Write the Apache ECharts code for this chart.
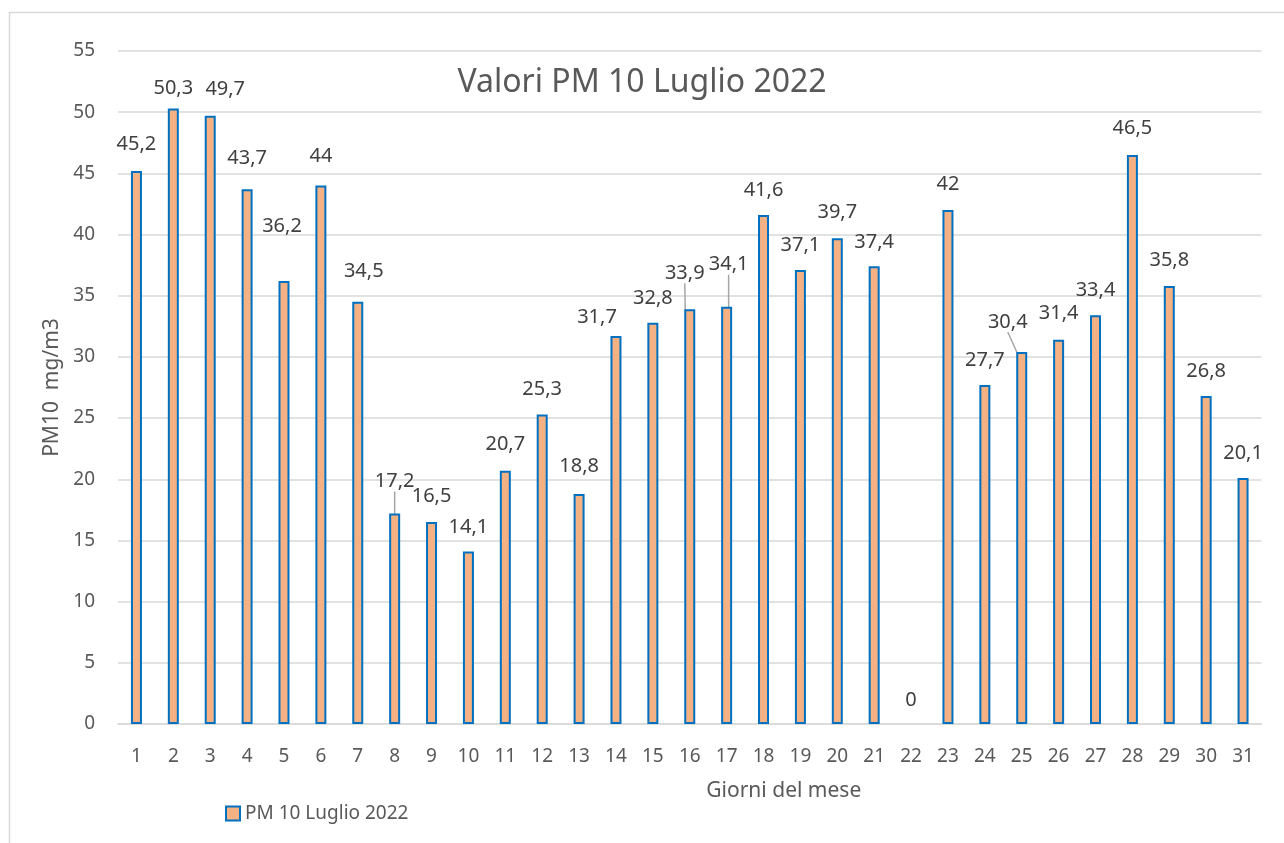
<!DOCTYPE html>
<html>
<head>
<meta charset="utf-8">
<title>Valori PM 10 Luglio 2022</title>
<script src="https://cdn.jsdelivr.net/npm/echarts@6/dist/echarts.min.js"></script>
<style>
  html, body { margin: 0; padding: 0; background: #fff; }
  #chart { width: 1284px; height: 843px; }
</style>
</head>
<body>
<div id="chart"></div>
<script>
// giorni del mese
const days = ['1', '2', '3', '4', '5', '6', '7', '8', '9', '10', '11', '12', '13', '14', '15', '16',
  '17', '18', '19', '20', '21', '22', '23', '24', '25', '26', '27', '28', '29', '30', '31']

// PM10 mg/m3
const pm10 = [45.2, 50.3, 49.7, 43.7, 36.2, 44, 34.5, 17.2, 16.5, 14.1, 20.7, 25.3, 18.8, 31.7, 32.8, 33.9,
  34.1, 41.6, 37.1, 39.7, 37.4, 0, 42, 27.7, 30.4, 31.4, 33.4, 46.5, 35.8, 26.8, 20.1]

const yTicks = [0, 5, 10, 15, 20, 25, 30, 35, 40, 45, 50, 55]

// label nudges (px) like the hand-moved labels in the original, [dx, dy]
const labelShift = {
  0: [0, -2], 1: [0, 5], 2: [15, -2], 3: [0, -6], 4: [-2, -30], 5: [0, -4], 6: [6, -6],
  7: [0, -7], 8: [0, -1], 9: [0, 1], 10: [0, -1], 12: [0, -3], 13: [-19, 6], 14: [0, 1],
  15: [-5, -11], 16: [2, -17], 19: [0, -1], 20: [0, 1], 21: [0, 1], 22: [0, -1],
  24: [-14, -5], 25: [0, -1], 27: [0, -2], 28: [0, -1]
}
const withLeader = [7, 15, 16, 24]

const font = '"Noto Sans", "Open Sans", sans-serif'
const txt = '#595959'

const chart = echarts.init(document.getElementById('chart'))

chart.setOption({
  animation: false,
  textStyle: { fontFamily: font },
  graphic: [{
    type: 'rect',
    shape: { x: 9.5, y: 12.5, width: 1400, height: 1000 },
    style: { fill: 'none', stroke: '#d9d9d9', lineWidth: 1.5 },
    silent: true
  }],
  title: {
    text: 'Valori PM 10 Luglio 2022',
    left: 'center',
    top: 62,
    textStyle: { fontFamily: font, fontSize: 32, fontWeight: 'normal', color: txt }
  },
  legend: {
    left: 220,
    top: 799,
    itemWidth: 14,
    itemHeight: 14,
    itemGap: 4,
    textStyle: { fontFamily: font, fontSize: 19, color: txt },
    data: [{ name: 'PM 10 Luglio 2022', icon: 'rect' }]
  },
  grid: { left: 118, right: 22.5, top: 51, bottom: 119 },
  xAxis: {
    type: 'category',
    data: days,
    name: 'Giorni del mese',
    nameLocation: 'middle',
    nameGap: 57,
    nameTextStyle: { fontFamily: font, fontSize: 21, color: txt, padding: [0, 0, 0, 188] },
    axisLine: { lineStyle: { color: '#d9d9d9', width: 1.5 } },
    axisTick: { show: false },
    axisLabel: { fontFamily: font, fontSize: 19, color: txt, margin: 23 }
  },
  yAxis: {
    type: 'value',
    min: 0,
    max: yTicks[yTicks.length - 1],
    interval: yTicks[1] - yTicks[0],
    name: 'PM10  mg/m3',
    nameLocation: 'middle',
    nameGap: 42,
    nameTextStyle: { fontFamily: font, fontSize: 21, color: txt },
    axisLine: { show: false },
    axisTick: { show: false },
    axisLabel: { fontFamily: font, fontSize: 19, color: txt, margin: 23 },
    splitLine: { lineStyle: { color: '#d9d9d9', width: 1.5 } }
  },
  series: [{
    name: 'PM 10 Luglio 2022',
    type: 'bar',
    barWidth: 11,
    data: pm10.map((v, i) => {
      const item = { value: v }
      if (v === 0) item.itemStyle = { borderWidth: 0 }
      if (withLeader.includes(i)) item.labelLine = { show: true }
      return item
    }),
    itemStyle: { color: '#f4b183', borderColor: '#0070c0', borderWidth: 2 },
    label: {
      show: true,
      position: 'top',
      distance: 15,
      fontFamily: font,
      fontSize: 20,
      color: '#404040',
      formatter: p => String(p.value).replace('.', ',')
    },
    labelLine: { show: false, lineStyle: { color: '#a6a6a6', width: 1.5 } },
    labelLayout: p => {
      const s = labelShift[p.dataIndex]
      return s ? { dx: s[0], dy: s[1] } : {}
    }
  }]
})
</script>
</body>
</html>
